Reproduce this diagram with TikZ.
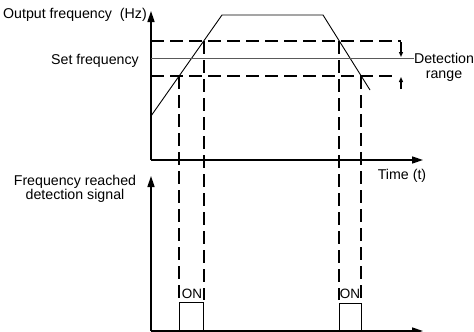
\documentclass[tikz,border=0pt]{standalone}
\usepackage{fontspec}
\setmainfont{Liberation Sans}
\usetikzlibrary{arrows.meta}
\begin{document}
\begin{tikzpicture}[x=1pt,y=-1pt,
  axis/.style={line width=1.6pt,-{Triangle[length=11pt,width=7pt]}},
  curveline/.style={line width=0.9pt},
  setline/.style={line width=0.9pt,draw=black!65},
  dashline/.style={line width=2pt,dash pattern=on 13pt off 6pt},
  smallarrow/.style={line width=1.2pt,-{Triangle[length=5pt,width=4pt]}},
  lbl/.style={font=\fontsize{14.2}{13}\selectfont,inner sep=0pt},
  detlbl/.style={font=\fontsize{14.2}{15}\selectfont,inner sep=0pt},
  onlbl/.style={font=\fontsize{13.5}{14}\selectfont,inner sep=0pt},
]
\useasboundingbox (0,0) rectangle (474,332);
% axes
\coordinate (O1) at (151,160);
\coordinate (Y1) at (151,11);
\coordinate (X1) at (423,160);
\coordinate (O2) at (151,331);
\coordinate (Y2) at (151,176);
\coordinate (X2) at (423,331);
\draw[axis] (O1) -- (Y1);
\draw[axis] (O1) -- (X1);
\draw[axis] (O2) -- (Y2);
\draw[axis] (O2) -- (X2);
% labels
\node[lbl,anchor=base east] (yl1) at (147,19) {Output frequency\ \ (Hz)};
\node[lbl,anchor=base east] (sf) at (139,64) {Set frequency};
\node[detlbl,align=center] (det) at (444,67) {Detection\\range};
\node[lbl,align=center] (yl2) at (75,189) {Frequency reached\\detection signal};
\node[lbl,anchor=base] (tl) at (402,179) {Time (t)};
% frequency curve
\coordinate (c0) at (151,116);
\coordinate (c1) at (222,15);
\coordinate (c2) at (323,15);
\coordinate (c3) at (370,90);
\draw[curveline] (c0) -- (c1) -- (c2) -- (c3);
% set frequency line
\coordinate (sfL) at (151,58);
\draw[setline] (sfL) -- (sfL -| det.west);
% detection band
\coordinate (hiL) at (151,41);
\coordinate (hiR) at (401,41);
\coordinate (loL) at (151,76);
\coordinate (loR) at (396,76);
\draw[dashline] (hiL) -- (hiR);
\draw[dashline] (loL) -- (loR);
\coordinate (aU) at (401,42);
\coordinate (aUe) at (401,57);
\coordinate (aL) at (401,89);
\coordinate (aLe) at (401,77);
\draw[smallarrow] (aU) -- (aUe);
\draw[smallarrow] (aL) -- (aLe);
% intersection points
\coordinate (p1) at (179.1,76);
\coordinate (p2) at (203.7,41);
\coordinate (p3) at (339.3,41);
\coordinate (p4) at (361.2,76);
\coordinate (q1) at (179.1,300);
\coordinate (q2) at (203.7,300);
\coordinate (q3) at (339.3,300);
\coordinate (q4) at (361.2,300);
\draw[dashline] (p1) -- (q1);
\draw[dashline] (p2) -- (q2);
\draw[dashline] (p3) -- (q3);
\draw[dashline] (p4) -- (q4);
% pulses
\coordinate (r1a) at (179.1,331);
\coordinate (r1b) at (179.1,302);
\coordinate (r1c) at (203.7,302);
\coordinate (r1d) at (203.7,331);
\coordinate (r2a) at (339.3,331);
\coordinate (r2b) at (339.3,303);
\coordinate (r2c) at (361.2,303);
\coordinate (r2d) at (361.2,331);
\draw[curveline] (r1a) -- (r1b) -- (r1c) -- (r1d);
\draw[curveline] (r2a) -- (r2b) -- (r2c) -- (r2d);
\node[onlbl,anchor=base] (on1) at (192,298) {ON};
\node[onlbl,anchor=base] (on2) at (350,298) {ON};
\end{tikzpicture}
\end{document}
